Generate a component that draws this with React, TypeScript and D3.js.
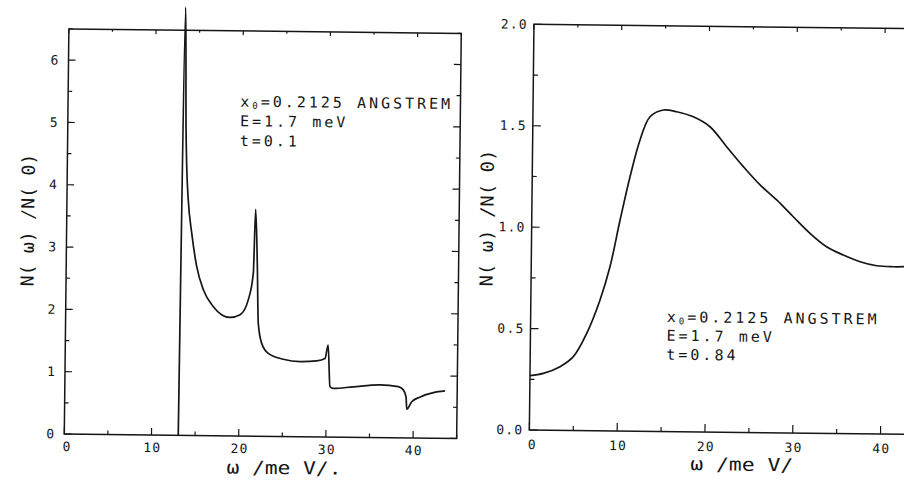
import React from "react";
import * as d3 from "d3";

// ---- data ----
const leftOmega = [13.07, 13.37, 13.56, 13.69, 13.91, 14.35, 14.97, 15.76, 16.93, 18.85, 20.0, 20.93, 21.47, 21.65, 21.92, 22.1, 22.52, 23.29, 25.01, 26.94, 28.85, 29.8, 30.14, 30.4, 30.78, 33.07, 36.13, 38.24, 38.82, 39.14, 39.24, 39.8, 40.77, 42.27, 43.6];
const leftN = [0, 6.87, 4.96, 4.32, 3.78, 3.25, 2.71, 2.34, 2.07, 1.9, 1.945, 2.19, 2.62, 3.64, 2.73, 1.815, 1.49, 1.33, 1.24, 1.205, 1.22, 1.26, 1.475, 0.81, 0.78, 0.81, 0.845, 0.82, 0.77, 0.66, 0.46, 0.58, 0.66, 0.73, 0.76];

const rightOmega = [0, 1.51, 3.41, 4.91, 6.41, 7.88, 8.97, 10.06, 11.14, 12.23, 13.34, 14.85, 16.38, 18.27, 20.18, 22.1, 24.03, 25.96, 27.87, 29.78, 31.71, 33.61, 35.53, 37.44, 39.35, 41.24, 42.6];
const rightN = [0.268, 0.28, 0.314, 0.364, 0.48, 0.645, 0.809, 1.04, 1.254, 1.436, 1.551, 1.585, 1.577, 1.553, 1.505, 1.407, 1.31, 1.221, 1.148, 1.066, 0.985, 0.92, 0.88, 0.848, 0.829, 0.825, 0.826];

const xMajorTicks = [0, 10, 20, 30, 40];
const xMinorTicks = [5, 15, 25, 35, 45];
const leftYMajor = [0, 1, 2, 3, 4, 5, 6];
const leftYMinor = [0.5, 1.5, 2.5, 3.5, 4.5, 5.5, 6.5];
const rightYMajor = [0, 0.5, 1.0, 1.5, 2.0];
const rightYMinor = [0.25, 0.75, 1.25, 1.75];

const yLabel = "N( ω) /N( 0)";
const leftXLabel = "ω /me V/.";
const rightXLabel = "ω /me V/";
const leftNote = ["=0.2125 ANGSTREM", "E=1.7 meV", "t=0.1"];
const rightNote = ["=0.2125 ANGSTREM", "E=1.7 meV", "t=0.84"];

const INK = "#161616";
const MONO = "'DejaVu Sans Mono', monospace";

type PanelProps = {
  xRange: [number, number];
  yRange: [number, number];
  yDomain: [number, number];
  omega: number[];
  n: number[];
  smooth: boolean;
  yMajor: number[];
  yMinor: number[];
  yFmt: (v: number) => string;
  major: number;
  minor: number;
  yLabelPos: [number, number, number];
  xLabel: string;
  xLabelPos: [number, number, number];
  note: string[];
  notePos: [number, number, number];
  yTickGap: number;
  xTickDrop: number;
};

function Panel(p: PanelProps) {
  const x = d3.scaleLinear().domain([0, 45]).range(p.xRange);
  const y = d3.scaleLinear().domain(p.yDomain).range(p.yRange);
  const pts: [number, number][] = p.omega.map((o, i) => [o, p.n[i]]);
  const line = d3
    .line<[number, number]>()
    .x((d) => x(d[0]))
    .y((d) => y(d[1]))
    .curve(p.smooth ? d3.curveCatmullRom.alpha(0.5) : d3.curveMonotoneX);
  const [x0, x1] = p.xRange;
  const [yb, yt] = p.yRange;
  const ticks: JSX.Element[] = [];
  xMajorTicks.concat(xMinorTicks).forEach((t, i) => {
    const len = xMajorTicks.includes(t) ? p.major : p.minor;
    ticks.push(<line key={"b" + i} x1={x(t)} x2={x(t)} y1={yb} y2={yb - len} />);
    ticks.push(<line key={"t" + i} x1={x(t)} x2={x(t)} y1={yt} y2={yt + len * 0.6} />);
  });
  p.yMajor.concat(p.yMinor).forEach((t, i) => {
    const len = p.yMajor.includes(t) ? p.major : p.minor;
    ticks.push(<line key={"l" + i} x1={x0} x2={x0 + len} y1={y(t)} y2={y(t)} />);
    ticks.push(<line key={"r" + i} x1={x1} x2={x1 - len} y1={y(t)} y2={y(t)} />);
  });
  return (
    <g>
      <rect x={x0} y={yt} width={x1 - x0} height={yb - yt} fill="none" stroke={INK} strokeWidth={1.5} />
      <g stroke={INK} strokeWidth={1.2}>{ticks}</g>
      <path d={line(pts) || ""} fill="none" stroke={INK} strokeWidth={1.7} strokeLinejoin="round" />
      <g fontFamily={MONO} fontSize={13} fill={INK} letterSpacing={1.2}>
        {p.yMajor.map((t) => (
          <text key={"yl" + t} x={x0 - p.yTickGap} y={y(t) + 4.5} textAnchor="end">
            {p.yFmt(t)}
          </text>
        ))}
        {xMajorTicks.map((t) => (
          <text key={"xl" + t} x={x(t) + (t === 0 ? 3 : 1)} y={yb + p.xTickDrop} textAnchor="middle">
            {String(t)}
          </text>
        ))}
      </g>
      <text
        transform={`translate(${p.yLabelPos[0]},${p.yLabelPos[1]}) rotate(-90)`}
        textAnchor="middle"
        fontFamily={MONO}
        fontSize={18}
        fill={INK}
        textLength={p.yLabelPos[2]}
        lengthAdjust="spacingAndGlyphs"
      >
        {yLabel}
      </text>
      <text
        x={p.xLabelPos[0]}
        y={p.xLabelPos[1]}
        textAnchor="middle"
        fontFamily={MONO}
        fontSize={18}
        fill={INK}
        textLength={p.xLabelPos[2]}
        lengthAdjust="spacingAndGlyphs"
      >
        {p.xLabel}
      </text>
      <g fontFamily={MONO} fontSize={15} fill={INK} letterSpacing={3}>
        <text x={p.notePos[0]} y={p.notePos[1]}>
          x<tspan fontSize={9} dy={2}>0</tspan>
          <tspan dy={-2}>{p.note[0]}</tspan>
        </text>
        <text x={p.notePos[0]} y={p.notePos[1] + p.notePos[2]}>{p.note[1]}</text>
        <text x={p.notePos[0]} y={p.notePos[1] + 2 * p.notePos[2]}>{p.note[2]}</text>
      </g>
    </g>
  );
}

export default function App() {
  return (
    <svg
      width={904}
      height={482}
      style={{ position: "absolute", left: 0, top: 0, background: "#fff" }}
    >
      <rect x={0} y={0} width={904} height={482} fill="#fff" />
      <g transform="rotate(0.65, 452, 241)">
        <Panel
          xRange={[66.5, 458.9]}
          yRange={[438.4, 33.3]}
          yDomain={[0, 6.5]}
          omega={leftOmega}
          n={leftN}
          smooth={false}
          yMajor={leftYMajor}
          yMinor={leftYMinor}
          yFmt={(v) => d3.format("d")(v)}
          major={7}
          minor={4}
          yLabelPos={[34, 224.8, 133]}
          xLabel={leftXLabel}
          xLabelPos={[286.6, 476, 115]}
          note={leftNote}
          notePos={[238.7, 109.1, 19.6]}
          yTickGap={9}
          xTickDrop={17}
        />
        <Panel
          xRange={[531.5, 926.6]}
          yRange={[429.1, 23.4]}
          yDomain={[0, 2]}
          omega={rightOmega}
          n={rightN}
          smooth={true}
          yMajor={rightYMajor}
          yMinor={rightYMinor}
          yFmt={(v) => d3.format(".1f")(v)}
          major={8}
          minor={4.5}
          yLabelPos={[493, 217.6, 137]}
          xLabel={rightXLabel}
          xLabelPos={[744.3, 467.4, 103]}
          note={rightNote}
          notePos={[667.6, 319.6, 18.8]}
          yTickGap={6}
          xTickDrop={19}
        />
      </g>
    </svg>
  );
}
